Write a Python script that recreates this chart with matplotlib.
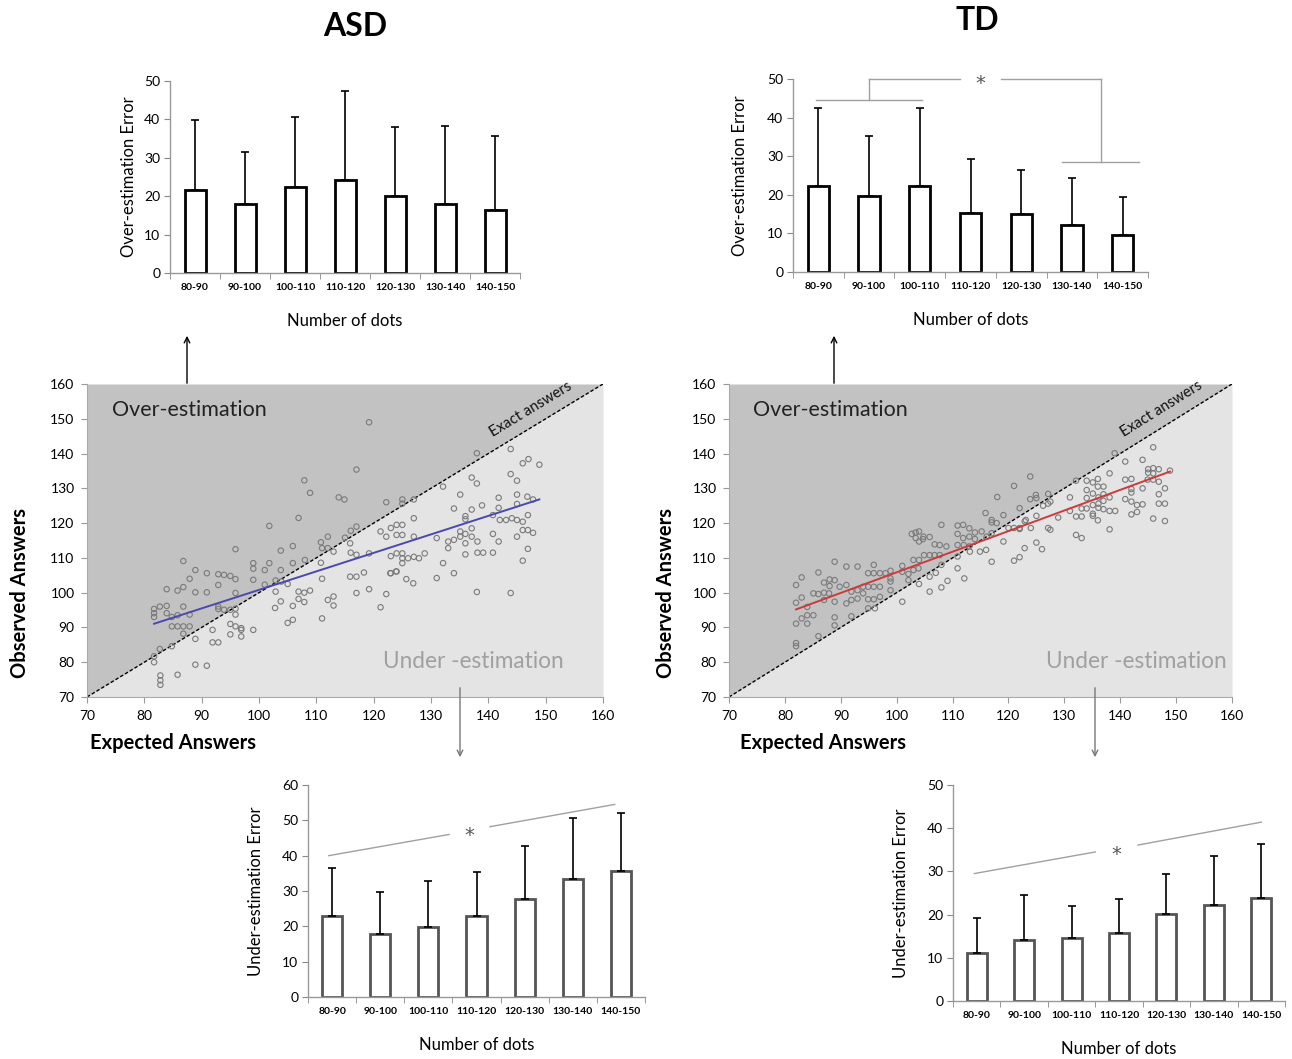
import numpy as np
import matplotlib
matplotlib.use('Agg')
import matplotlib.pyplot as plt

plt.rcParams['font.family'] = ['Lato', 'DejaVu Sans']

# ---------------- data ----------------
categories = ['80-90', '90-100', '100-110', '110-120', '120-130', '130-140', '140-150']

asd_over_mean = [21.7, 18.0, 22.5, 24.3, 20.1, 18.0, 16.5]
asd_over_sd = [18.1, 13.4, 18.2, 23.0, 17.9, 20.3, 19.1]
td_over_mean = [22.2, 19.8, 22.2, 15.3, 15.0, 12.2, 9.6]
td_over_sd = [20.4, 15.4, 20.4, 13.9, 11.3, 12.2, 9.8]
asd_under_mean = [22.8, 17.8, 19.8, 23.0, 27.7, 33.3, 35.6]
asd_under_sd = [13.7, 12.0, 13.0, 12.5, 15.0, 17.3, 16.4]
td_under_mean = [11.0, 14.2, 14.5, 15.8, 20.1, 22.3, 23.8]
td_under_sd = [8.2, 10.3, 7.4, 7.7, 9.2, 11.2, 12.5]

asd_expected = [
    117.0, 107.9, 108.9, 113.9, 114.9, 106.9, 101.8, 95.9, 86.8, 88.9, 90.9, 92.9, 93.9, 95.0, 95.9,
    87.9, 83.9, 85.8, 86.8, 88.9, 90.9, 92.9, 99.0, 99.0, 101.0, 101.8, 103.8, 105.9, 105.9, 108.0,
    103.8, 99.0, 95.9, 101.0, 102.9, 103.9, 105.0, 102.9, 106.9, 107.9, 108.9, 106.9, 107.9, 110.8,
    112.0, 111.0, 112.0, 113.0, 110.8, 111.0, 115.0, 116.0, 117.0, 115.9, 116.0, 115.9, 117.0, 117.0,
    112.0, 113.0, 113.0, 111.0, 103.8, 105.9, 102.8, 105.0, 105.9, 81.7, 81.7, 81.7, 82.7, 83.9, 83.9,
    84.8, 85.8, 84.8, 85.8, 86.8, 87.9, 86.8, 87.9, 86.8, 88.9, 92.9, 92.9, 93.9, 95.0, 95.9, 95.9,
    95.0, 95.9, 96.9, 96.9, 96.9, 99.0, 95.0, 91.9, 91.9, 92.9, 81.7, 81.7, 82.7, 84.8, 88.9, 90.9,
    85.8, 82.8, 82.8, 82.8,
    119.2, 138.0, 143.9, 146.0, 147.0, 148.9, 143.9, 145.0, 145.0, 145.0, 137.1, 138.0, 135.1, 132.1,
    141.8, 141.8, 138.9, 137.1, 136.0, 136.0, 134.0, 146.8, 147.8, 146.9, 146.0, 145.0, 144.1, 143.1,
    142.0, 146.9, 146.0, 145.0, 147.8, 146.9, 146.0, 140.8, 140.8, 141.8, 140.8, 137.1, 137.1, 136.0,
    136.0, 138.1, 136.0, 138.1, 139.1, 135.1, 135.1, 134.0, 133.0, 133.0, 132.1, 134.0, 131.0, 131.0,
    138.0, 143.9, 127.0, 127.0, 128.9, 127.9, 127.0, 126.0, 125.0, 125.0, 125.0, 124.0, 123.0, 123.0,
    124.0, 125.7, 126.9, 123.0, 124.0, 125.0, 125.0, 124.0, 122.2, 125.0, 125.0, 127.0, 121.2, 122.2,
    119.2, 117.0, 118.3, 119.2, 122.2, 121.2, 122.9, 123.9]
asd_observed = [
    135.4, 132.3, 128.7, 127.4, 126.8, 121.5, 119.2, 112.5, 109.1, 106.5, 105.6, 105.3, 105.1, 104.8, 103.9,
    104.0, 101.0, 100.6, 101.6, 100.1, 100.1, 102.2, 108.5, 106.9, 106.5, 108.5, 112.1, 113.4, 108.5, 109.4,
    106.5, 103.7, 99.9, 102.3, 103.5, 103.2, 102.5, 100.3, 100.3, 100.0, 100.6, 98.2, 97.3, 114.5,
    116.1, 112.8, 112.8, 111.8, 108.6, 104.0, 115.8, 117.8, 119.0, 114.2, 111.5, 104.6, 104.6, 99.9,
    97.9, 98.9, 96.3, 92.6, 97.5, 96.2, 95.6, 91.3, 92.2, 95.3, 94.1, 93.0, 96.0, 96.2, 94.1,
    93.0, 93.5, 90.3, 90.3, 96.0, 93.7, 90.3, 90.3, 88.2, 86.7, 96.0, 95.3, 95.1, 95.1, 95.4, 93.7,
    91.0, 90.3, 89.8, 89.3, 87.4, 89.3, 88.0, 89.3, 85.7, 85.7, 81.7, 80.0, 83.8, 84.6, 79.3, 79.0,
    76.4, 76.2, 74.8, 73.5,
    149.0, 140.1, 141.3, 137.2, 138.4, 136.8, 134.1, 132.2, 128.2, 125.5, 133.1, 131.4, 128.2, 130.5,
    127.3, 124.4, 125.1, 123.9, 122.0, 121.1, 124.2, 127.6, 126.8, 122.3, 120.4, 120.9, 121.4, 120.9,
    120.9, 118.0, 118.0, 116.1, 117.2, 112.6, 109.2, 122.3, 116.9, 114.7, 111.5, 118.5, 116.1, 116.9,
    114.2, 114.7, 111.0, 111.5, 111.5, 117.6, 116.1, 115.2, 114.7, 112.8, 108.5, 105.6, 104.2, 115.7,
    100.2, 99.9, 121.4, 116.1, 111.3, 109.9, 110.3, 109.9, 111.3, 109.9, 108.5, 111.3, 110.5, 105.6,
    106.1, 103.9, 102.7, 118.6, 119.5, 119.5, 116.6, 116.6, 126.0, 126.8, 125.6, 126.8, 117.6, 116.1,
    111.3, 110.9, 105.8, 101.0, 99.6, 95.8, 105.6, 106.1]

td_expected = [
    108.0, 103.4, 104.0, 102.7, 103.4, 104.0, 104.7, 105.9, 104.8, 110.9, 110.9, 111.9, 113.0, 113.0,
    114.0, 114.0, 115.9, 115.2, 116.1, 106.8, 107.7, 108.9, 105.9, 106.8, 107.7, 104.9, 110.9, 112.0,
    110.9, 110.9, 112.1, 113.1, 111.9, 113.0, 108.0, 109.1, 108.0, 105.9, 107.0, 103.0, 104.0, 103.9,
    103.0, 102.1, 102.1, 104.0, 105.9, 101.0, 101.0, 101.0, 98.9, 98.9, 98.9, 98.9, 98.0, 97.0, 97.0,
    97.0, 95.9, 95.9, 95.9, 95.9, 94.9, 94.9, 94.9, 94.0, 94.0, 96.1, 94.9, 93.0, 93.0, 93.0, 91.9,
    91.9, 91.9, 91.0, 91.0, 91.0, 89.8, 88.9, 88.9, 88.9, 88.9, 88.0, 88.0, 87.9, 87.0, 87.0, 86.0,
    86.0, 86.0, 85.1, 85.1, 84.0, 84.0, 83.0, 83.0, 83.0, 82.0, 82.0, 82.0, 82.0, 82.0, 84.0, 87.0, 88.9,
    145.9, 139.0, 140.9, 144.0, 145.0, 145.9, 146.9, 148.9, 145.0, 145.9, 140.9, 142.0, 144.9, 145.9,
    146.9, 148.0, 144.0, 142.0, 146.9, 146.9, 148.0, 140.9, 142.0, 143.0, 144.0, 142.0, 143.0, 145.9,
    148.0, 142.0, 138.1, 136.0, 135.1, 134.0, 132.1, 137.0, 136.0, 134.0, 134.0, 135.1, 136.1, 137.0,
    137.0, 138.1, 136.1, 137.0, 138.1, 139.1, 138.1, 136.0, 135.1, 135.1, 133.1, 133.1, 132.1, 132.1,
    133.1, 131.0, 131.0, 134.0, 135.1, 136.1, 123.9, 121.0, 118.0, 122.0, 123.9, 124.9, 125.0, 127.1,
    127.1, 126.2, 127.5, 128.9, 125.0, 123.1, 122.9, 122.0, 124.0, 122.0, 121.0, 120.0, 119.1, 119.1,
    117.0, 117.0, 117.0, 117.9, 127.1, 127.5, 125.0, 126.0, 122.9, 122.0, 121.0, 117.0, 114.9, 116.0]
td_observed = [
    119.5, 117.3, 117.6, 116.9, 115.7, 114.7, 115.4, 116.0, 116.1, 119.3, 116.9, 119.5, 118.5, 116.1,
    117.3, 115.4, 122.9, 117.6, 116.1, 113.9, 113.7, 113.3, 110.8, 110.8, 110.8, 110.8, 113.7, 113.7,
    110.4, 107.0, 104.1, 111.8, 115.7, 113.3, 108.0, 103.4, 101.5, 100.3, 105.7, 109.4, 109.4, 107.0,
    106.5, 105.4, 103.6, 102.5, 104.6, 107.7, 106.0, 97.4, 106.3, 104.1, 103.2, 100.7, 105.6, 105.6, 101.7,
    98.8, 108.0, 105.6, 101.7, 98.1, 105.6, 101.7, 98.1, 101.7, 99.8, 95.5, 95.5, 107.5, 100.7, 98.3, 100.3,
    97.9, 93.2, 107.5, 102.2, 96.9, 101.7, 108.9, 97.4, 92.9, 90.6, 101.9, 103.8, 99.8, 102.9, 100.0, 105.8,
    99.6, 87.5, 99.8, 93.5, 91.1, 93.5, 104.4, 98.6, 92.6, 102.2, 97.1, 91.1, 85.5, 84.6, 95.9, 97.9, 103.6,
    141.8, 140.1, 137.7, 138.2, 135.5, 135.8, 135.5, 135.1, 134.5, 134.3, 132.5, 132.7, 132.5, 132.5,
    131.9, 130.0, 130.0, 129.8, 128.3, 125.6, 125.6, 126.9, 126.2, 125.2, 125.4, 122.5, 123.2, 121.3,
    120.6, 128.8, 134.3, 132.7, 131.7, 132.2, 132.2, 130.5, 130.5, 129.5, 127.2, 128.5, 127.4, 128.3,
    126.4, 127.4, 125.6, 124.0, 123.5, 123.5, 118.2, 120.8, 122.7, 122.1, 124.2, 121.9, 121.9, 116.6,
    115.7, 127.4, 123.5, 124.2, 125.2, 124.4, 133.4, 130.7, 127.5, 124.3, 126.9, 128.1, 127.2, 128.4,
    125.6, 125.0, 126.2, 121.6, 122.1, 120.9, 120.5, 118.6, 118.6, 118.3, 118.6, 118.6, 114.7, 122.3,
    120.9, 120.2, 117.1, 120.0, 118.6, 118.1, 114.4, 112.5, 112.8, 110.2, 109.2, 108.9, 111.8, 112.3]

# regression lines (intercept, slope)
asd_fit = (47.6, 0.532)
td_fit = (46.6, 0.5925)

# ---------------- figure ----------------
W, H = 1292, 1059
fig = plt.figure(figsize=(W / 100, H / 100), dpi=100)


def rect(l, r, top, bottom):
    return [l / W, 1 - bottom / H, (r - l) / W, (bottom - top) / H]


GREY_SIG = '#a0a0a0'


def bar_panel(rc, means, sds, ymax, ylabel, edge, ylpad):
    ax = fig.add_axes(rc)
    x = np.arange(len(categories))
    ax.bar(x, means, width=0.42, facecolor='white', edgecolor=edge, linewidth=2.0, zorder=2)
    ax.errorbar(x, means, yerr=[np.zeros(len(means)), sds], fmt='none', ecolor='black',
                elinewidth=1.2, capsize=3, capthick=1.2, zorder=3)
    ax.set_xlim(-0.5, 6.5)
    ax.set_ylim(0, ymax)
    ax.set_yticks(np.arange(0, ymax + 1, 10))
    ax.set_xticks(x)
    ax.set_xticklabels(categories, fontsize=7.5, fontweight='bold')
    ax.set_xticks(np.arange(-0.5, 7, 1), minor=True)
    ax.tick_params(axis='x', which='major', length=0, pad=7)
    ax.tick_params(axis='x', which='minor', length=4, color='#888888', direction='out')
    ax.tick_params(axis='y', length=4, color='#888888', labelsize=10, pad=3)
    for s in ['top', 'right']:
        ax.spines[s].set_visible(False)
    for s in ['left', 'bottom']:
        ax.spines[s].set_color('#999999')
        ax.spines[s].set_linewidth(1.0)
    ax.set_ylabel(ylabel, fontsize=12, labelpad=ylpad)
    ax.set_xlabel('Number of dots', fontsize=12, labelpad=15)
    return ax


def star(ax, x, yc):
    ax.annotate('*', xy=(x, yc), xytext=(0, -8.3), textcoords='offset points',
                fontsize=14, ha='center', va='baseline', color='#555555',
                family='DejaVu Sans', annotation_clip=False)


def scatter_panel(rc, xs, ys, fit, color, under_x):
    ax = fig.add_axes(rc)
    ax.set_xlim(70, 160)
    ax.set_ylim(70, 160)
    ax.fill_between([70, 160], [70, 160], [160, 160], color='#c2c2c2', lw=0, zorder=0)
    ax.fill_between([70, 160], [70, 70], [70, 160], color='#e4e4e4', lw=0, zorder=0)
    ax.plot([70, 160], [70, 160], ls=(0, (2.5, 1.5)), color='black', lw=1, zorder=2)
    ax.scatter(xs, ys, s=15, facecolors='none', edgecolors='#7a7a7a', linewidths=0.8, zorder=3)
    xx = np.array([min(xs), max(xs)])
    ax.plot(xx, fit[0] + fit[1] * xx, color=color, lw=1.4, zorder=4)
    ax.set_xticks(np.arange(70, 161, 10))
    ax.set_yticks(np.arange(70, 161, 10))
    ax.tick_params(length=4, color='#999999', labelsize=10, pad=5)
    for s in ['top', 'right']:
        ax.spines[s].set_visible(False)
    for s in ['left', 'bottom']:
        ax.spines[s].set_color('#aaaaaa')
    ax.text(0.048, 0.917, 'Over-estimation', transform=ax.transAxes, fontsize=15.5,
            color='#222222', va='center', ha='left')
    ax.text(under_x, 0.112, 'Under -estimation', transform=ax.transAxes, fontsize=16.3,
            color='#a0a0a0', va='center', ha='left')
    ax.text(148.0, 151.0, 'Exact answers', fontsize=10.7, rotation=45, transform_rotates_text=True,
            rotation_mode='anchor', ha='center', va='bottom', color='#111111')
    return ax


# top bar charts
ax1 = bar_panel(rect(170, 520, 81, 273), asd_over_mean, asd_over_sd, 50, 'Over-estimation Error', 'black', 5)
ax2 = bar_panel(rect(793, 1148, 79, 272), td_over_mean, td_over_sd, 50, 'Over-estimation Error', 'black', 13.5)

# significance bracket TD over-estimation
kw = dict(color=GREY_SIG, lw=1, clip_on=False)
ax2.plot([-0.05, 2.05], [44.5, 44.5], **kw)
ax2.plot([1, 1], [44.5, 50], **kw)
ax2.plot([1, 2.8], [50, 50], **kw)
ax2.plot([3.6, 5.57], [50, 50], **kw)
ax2.plot([5.57, 5.57], [50, 28.4], **kw)
ax2.plot([4.8, 6.33], [28.4, 28.4], **kw)
star(ax2, 3.2, 50.5)

# scatter plots
scatter_panel(rect(87, 603, 384, 697), asd_expected, asd_observed, asd_fit, '#4a4aae', 0.574)
scatter_panel(rect(729, 1232, 384, 697), td_expected, td_observed, td_fit, '#cc3b3b', 0.63)

# bottom bar charts
ax3 = bar_panel(rect(308, 645, 785, 997), asd_under_mean, asd_under_sd, 60, 'Under-estimation Error', '#555555', 13)
ax4 = bar_panel(rect(953, 1285, 785, 1001), td_under_mean, td_under_sd, 50, 'Under-estimation Error', '#555555', 13)

ax3.plot([-0.07, 2.43], [40, 46], **kw)
ax3.plot([3.28, 5.87], [48.2, 54.5], **kw)
star(ax3, 2.85, 47.3)
ax4.plot([-0.05, 2.5], [29.5, 34.5], **kw)
ax4.plot([3.4, 6.0], [36.1, 41.4], **kw)
star(ax4, 2.94, 35.2)

# titles and axis labels
fig.text(355 / W, 1 - 27 / H, 'ASD', fontsize=23, fontweight='bold', ha='center', va='center')
fig.text(977 / W, 1 - 20 / H, 'TD', fontsize=23, fontweight='bold', ha='center', va='center')
for xl, xe in [(20, 90), (666, 740)]:
    fig.text(xl / W, 1 - 593 / H, 'Observed Answers', fontsize=14.5, fontweight='bold',
             rotation=90, ha='center', va='center')
    fig.text(xe / W, 1 - 743 / H, 'Expected Answers', fontsize=14.5, fontweight='bold',
             ha='left', va='center')

# arrows
for x0, y0, y1, col in [(187, 386, 333, 'black'), (834, 386, 333, 'black'),
                        (460, 685, 760, '#777777'), (1095, 685, 760, '#777777')]:
    fig.add_artist(matplotlib.patches.FancyArrowPatch(
        (x0 / W, 1 - y0 / H), (x0 / W, 1 - y1 / H), transform=fig.transFigure,
        arrowstyle='->', mutation_scale=10, color=col, lw=1))

fig.savefig('out.png', dpi=100)
